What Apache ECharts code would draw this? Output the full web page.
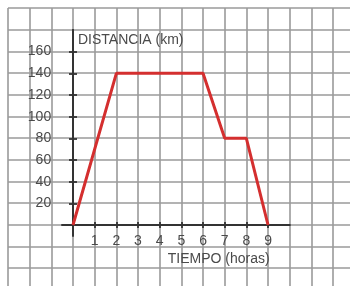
<!DOCTYPE html>
<html>
<head>
<meta charset="utf-8">
<script src="https://cdn.jsdelivr.net/npm/echarts@6/dist/echarts.min.js"></script>
<style>
  html, body { margin: 0; padding: 0; background: #fff; }
  #chart_distancia { width: 350px; height: 286px; }
</style>
</head>
<body>
<div id="chart_distancia"></div>
<script>
// datos
const hours = [0, 2, 6, 7, 8, 9];
const distance = [0, 140, 140, 80, 80, 0];
const xTicks = [1, 2, 3, 4, 5, 6, 7, 8, 9];
const yTicks = [20, 40, 60, 80, 100, 120, 140, 160];

// cuadricula de papel (px por cuadro) y origen de los ejes
const U = 21.67;
const X0 = 73;
const Y0 = 225;

const labelFont = {
  color: "#4a4a4a",
  fontFamily: "Liberation Sans",
  fontSize: 14,
};

const chart = echarts.init(document.getElementById("chart_distancia"));

const paperAxis = (max) => ({
  type: "value",
  gridIndex: 0,
  min: 0,
  max: max,
  interval: 1,
  axisLine: { show: false },
  axisTick: { show: false },
  axisLabel: { show: false },
  splitLine: { show: true, lineStyle: { color: "#9a9a9a", width: 1.6 } },
});

const dataX = (position, withLabels) => ({
  type: "value",
  gridIndex: 1,
  position: position,
  min: -0.5,
  max: 10,
  axisLine: { show: true, onZero: true, lineStyle: { color: "#333", width: 1.8 } },
  axisTick: {
    show: true,
    customValues: xTicks,
    length: 3,
    lineStyle: { color: "#333", width: 1.8 },
  },
  axisLabel: withLabels
    ? { show: true, customValues: xTicks, margin: -2, ...labelFont }
    : { show: false },
  splitLine: { show: false },
  name: withLabels ? "TIEMPO (horas)" : "",
  nameLocation: "end",
  nameGap: -122,
  nameMoveOverlap: false,
  nameTextStyle: {
    ...labelFont,
    align: "left",
    verticalAlign: "top",
    padding: [27, 0, 0, 0],
  },
});

const dataY = (position, withLabels) => ({
  type: "value",
  gridIndex: 1,
  position: position,
  min: -10,
  max: 180,
  axisLine: { show: true, onZero: true, lineStyle: { color: "#333", width: 1.8 } },
  axisTick: {
    show: true,
    customValues: yTicks,
    length: 4,
    lineStyle: { color: "#333", width: 1.8 },
  },
  axisLabel: withLabels
    ? { show: true, customValues: yTicks, margin: 11, ...labelFont }
    : { show: false },
  splitLine: { show: false },
  name: withLabels ? "DISTANCIA (km)" : "",
  nameLocation: "end",
  nameGap: -10,
  nameMoveOverlap: false,
  nameTextStyle: {
    ...labelFont,
    align: "left",
    verticalAlign: "middle",
    padding: [0, 0, 0, 5],
  },
});

const option = {
  backgroundColor: "#fff",
  animation: false,
  grid: [
    { left: 8, top: 8, width: 16 * U, height: 13 * U, outerBoundsMode: "none" },
    {
      left: X0 - 0.5 * U,
      top: Y0 - 9 * U,
      width: 10.5 * U,
      height: 9.5 * U,
      outerBoundsMode: "none",
    },
  ],
  xAxis: [paperAxis(16), dataX("bottom", true), dataX("top", false)],
  yAxis: [paperAxis(13), dataY("left", true), dataY("right", false)],
  series: [
    {
      type: "line",
      xAxisIndex: 1,
      yAxisIndex: 1,
      data: hours.map((h, i) => [h, distance[i]]),
      symbol: "none",
      lineStyle: { color: "#d42f2f", width: 3 },
      z: 5,
    },
  ],
};

chart.setOption(option);
</script>
</body>
</html>
